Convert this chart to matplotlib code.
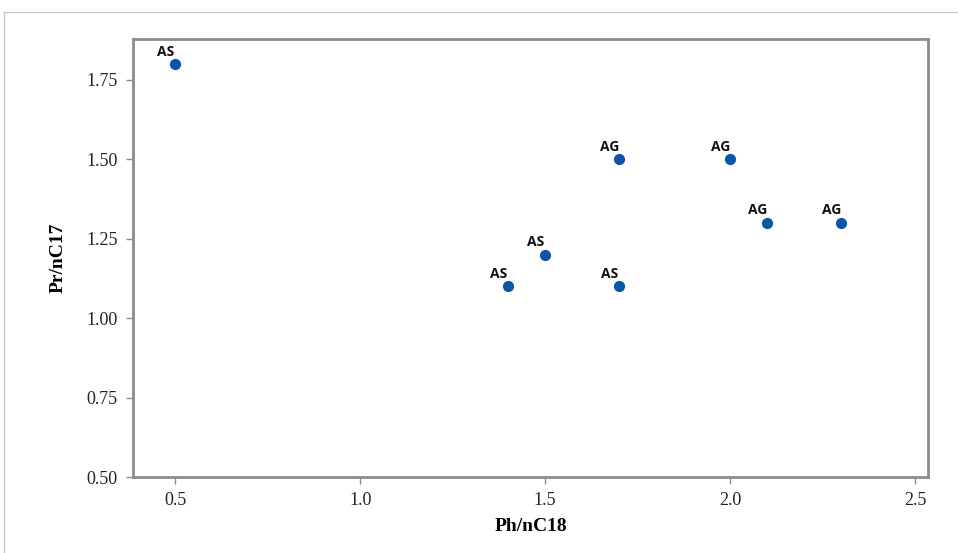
import matplotlib.pyplot as plt
from matplotlib.lines import Line2D

ph_nc18 = [0.5, 1.4, 1.5, 1.7, 1.7, 2.0, 2.1, 2.3]
pr_nc17 = [1.8, 1.1, 1.2, 1.5, 1.1, 1.5, 1.3, 1.3]
groups = ['AS', 'AS', 'AS', 'AG', 'AS', 'AG', 'AG', 'AG']

xticks = [0.5, 1.0, 1.5, 2.0, 2.5]
yticks = [0.50, 0.75, 1.00, 1.25, 1.50, 1.75]

fig = plt.figure(figsize=(9.58, 5.53), dpi=100)
ax = fig.add_axes([0.1388, 0.1374, 0.8299, 0.7921])

ax.scatter(ph_nc18, pr_nc17, s=65, color='#0a55a8', zorder=3, linewidths=0)
for x, y, g in zip(ph_nc18, pr_nc17, groups):
    ax.annotate(g, (x, y), xytext=(-7, 4), textcoords='offset points',
                ha='center', va='bottom', fontsize=10, fontweight='bold',
                family='Open Sans', color='#111111')

ax.set_xlim(0.386, 2.535)
ax.set_ylim(0.50, 1.879)
ax.set_xticks(xticks)
ax.set_xticklabels([f'{v:.1f}' for v in xticks])
ax.set_yticks(yticks)
ax.set_yticklabels([f'{v:.2f}' for v in yticks])

for s in ax.spines.values():
    s.set_color('#8c8c8c')
    s.set_linewidth(2)
ax.tick_params(direction='out', length=5, width=1, color='#8c8c8c',
               labelsize=13, labelcolor='#222222', pad=6)
for lab in ax.get_xticklabels() + ax.get_yticklabels():
    lab.set_family('Liberation Serif')

ax.set_xlabel('Ph/nC18', family='Liberation Serif', fontweight='bold',
              fontsize=14, labelpad=6)
ax.set_ylabel('Pr/nC17', family='Liberation Serif', fontweight='bold',
              fontsize=14, labelpad=14)

# outer frame of the original image
fig.add_artist(Line2D([4 / 958, 1], [1 - 12 / 553, 1 - 12 / 553],
                      transform=fig.transFigure, color='#c8c8c8', lw=1))
fig.add_artist(Line2D([4 / 958, 4 / 958], [0, 1 - 12 / 553],
                      transform=fig.transFigure, color='#c8c8c8', lw=1))

fig.savefig('out.png', dpi=100)
